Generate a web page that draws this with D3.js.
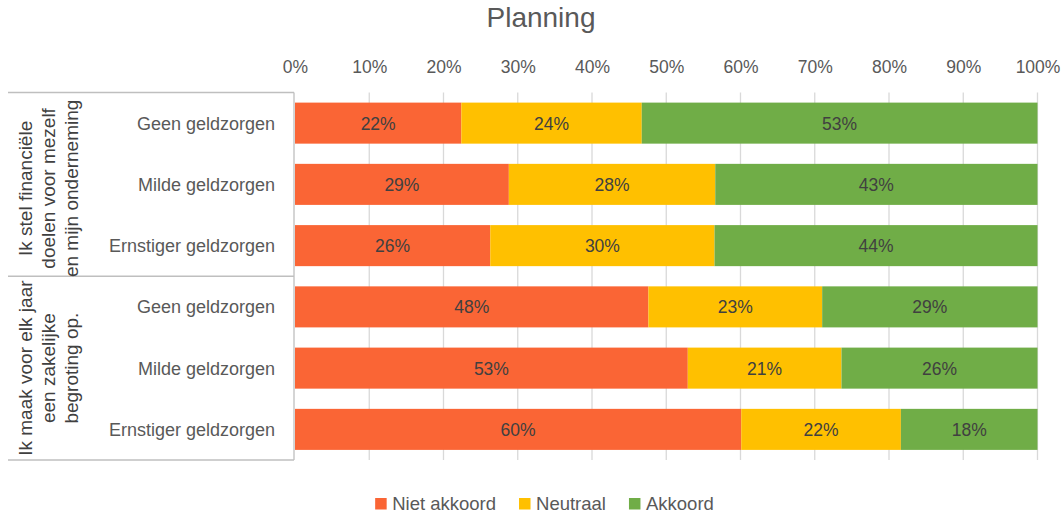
<!DOCTYPE html>
<html>
<head>
<meta charset="utf-8">
<script src="https://cdn.jsdelivr.net/npm/d3@7"></script>
<style>
  html, body { margin: 0; padding: 0; background: #ffffff; }
  svg { display: block; font-family: "Liberation Sans", Arial, sans-serif; }
</style>
</head>
<body>
<svg id="chart" width="1062" height="515"></svg>
<script>
// Survey answers per statement and money-worry level (percent of respondents)
const groups = [
  ["Ik stel financiële", "doelen voor mezelf", "en mijn onderneming"],
  ["Ik maak voor elk jaar", "een zakelijke", "begroting op."]
];
const categories = ["Geen geldzorgen", "Milde geldzorgen", "Ernstiger geldzorgen"];
const seriesNames = ["Niet akkoord", "Neutraal", "Akkoord"];
const nietAkkoord = [22.4, 28.8, 26.3, 47.6, 52.9, 60.1];
const neutraal    = [24.3, 27.8, 30.2, 23.4, 20.7, 21.5];
const akkoord     = [53.3, 43.4, 43.5, 29.0, 26.4, 18.4];
const xTicks = [0, 10, 20, 30, 40, 50, 60, 70, 80, 90, 100];
const colors = ["#FA6535", "#FFC000", "#70AD47"];

const rows = [];
groups.forEach((g, gi) => categories.forEach((c, ci) => {
  const i = gi * categories.length + ci;
  rows.push({ id: i, group: gi, label: c, values: [nietAkkoord[i], neutraal[i], akkoord[i]] });
}));

const svg = d3.select("#chart");
const plotTop = 92.5, plotBottom = 460, plotLeft = 295, plotRight = 1037.5;

const x = d3.scaleLinear().domain([0, 100]).range([plotLeft, plotRight]);
const y = d3.scaleBand().domain(rows.map(r => r.id)).range([plotTop, plotBottom])
  .paddingInner(0.33).paddingOuter(0.165);

// Title
svg.append("text").attr("x", 541).attr("y", 27).attr("text-anchor", "middle")
  .attr("font-size", 28).attr("fill", "#595959").text("Planning");

// Vertical gridlines
svg.append("g").selectAll("line").data(xTicks.slice(1)).join("line")
  .attr("x1", d => x(d)).attr("x2", d => x(d))
  .attr("y1", plotTop).attr("y2", plotBottom)
  .attr("stroke", "#D9D9D9").attr("stroke-width", 1.3);

// Top percentage axis
const xAxis = d3.axisTop(x).tickValues(xTicks).tickFormat(d => d + "%").tickSize(0).tickPadding(0);
const gx = svg.append("g").attr("transform", `translate(0, 72.5)`).call(xAxis);
gx.select(".domain").remove();
gx.selectAll("text").attr("font-size", 17.5).attr("fill", "#595959")
  .attr("font-family", "Liberation Sans, Arial, sans-serif").attr("dy", 0);

// Category axis line and group separators
svg.append("line").attr("x1", plotLeft - 1).attr("x2", plotLeft - 1)
  .attr("y1", plotTop).attr("y2", plotBottom).attr("stroke", "#BFBFBF").attr("stroke-width", 1.3);
const groupEdges = [plotTop, (y(2) + y.bandwidth() + y(3)) / 2, plotBottom];
svg.append("g").selectAll("line").data(groupEdges).join("line")
  .attr("x1", 8).attr("x2", plotLeft - 1).attr("y1", d => d).attr("y2", d => d)
  .attr("stroke", "#BFBFBF").attr("stroke-width", 1.3);

// Stacked bars
const stackData = rows.map(r => {
  let acc = 0;
  return r.values.map((v, si) => { const s = { row: r.id, si, v, x0: acc, x1: acc + v }; acc += v; return s; });
}).flat();

svg.append("g").selectAll("rect").data(stackData).join("rect")
  .attr("x", d => x(d.x0)).attr("width", d => x(d.x1) - x(d.x0))
  .attr("y", d => y(d.row)).attr("height", y.bandwidth())
  .attr("fill", d => colors[d.si]);

// Value labels inside the segments
svg.append("g").selectAll("text").data(stackData).join("text")
  .attr("x", d => (x(d.x0) + x(d.x1)) / 2)
  .attr("y", d => y(d.row) + y.bandwidth() / 2 + 6.5)
  .attr("text-anchor", "middle").attr("font-size", 17.5).attr("fill", "#404040")
  .text(d => Math.round(d.v) + "%");

// Category labels
svg.append("g").selectAll("text").data(rows).join("text")
  .attr("x", 275).attr("y", d => y(d.id) + y.bandwidth() / 2 + 6.5)
  .attr("text-anchor", "end").attr("font-size", 18).attr("fill", "#595959")
  .text(d => d.label);

// Rotated group labels
groups.forEach((lines, gi) => {
  const cy = (groupEdges[gi] + groupEdges[gi + 1]) / 2 + (gi === 0 ? 4 : 0);
  lines.forEach((line, li) => {
    const bx = 32 + li * 23;
    svg.append("text")
      .attr("transform", `translate(${bx},${cy}) rotate(-90)`)
      .attr("text-anchor", "middle").attr("font-size", 19).attr("fill", "#404040")
      .text(line);
  });
});

// Legend
const legend = svg.append("g");
let lx = 0;
seriesNames.forEach((name, i) => {
  const g = legend.append("g");
  g.append("rect").attr("x", 0).attr("y", -11.5).attr("width", 11.5).attr("height", 11.5).attr("fill", colors[i]);
  const t = g.append("text").attr("x", 17).attr("y", 0).attr("font-size", 18.5).attr("fill", "#595959").text(name);
  const w = 17 + t.node().getComputedTextLength();
  g.attr("transform", `translate(${lx},0)`);
  lx += w + 23;
});
const legendWidth = lx - 23;
legend.attr("transform", `translate(${544.5 - legendWidth / 2}, 509.5)`);
</script>
</body>
</html>
